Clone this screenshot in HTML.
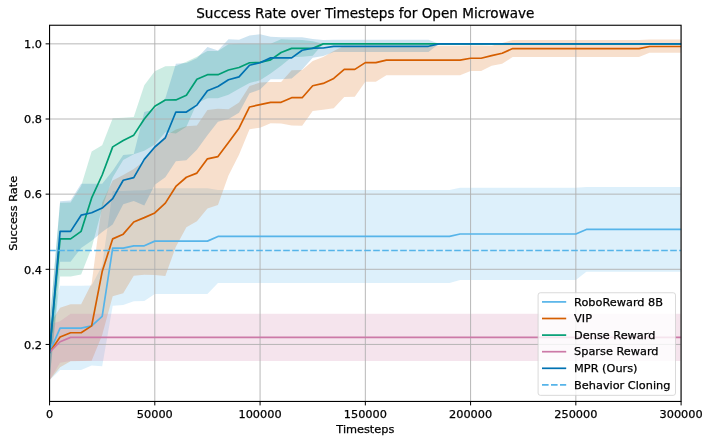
<!DOCTYPE html>
<html><head><meta charset="utf-8"><title>Success Rate over Timesteps for Open Microwave</title>
<style>html,body{margin:0;padding:0;background:#fff}svg{display:block}text{stroke:#000;stroke-width:0.25px;paint-order:stroke fill}</style></head>
<body>
<svg width="711" height="444" viewBox="0 0 711 444" font-family="'DejaVu Sans', 'Liberation Sans', sans-serif" font-size="11.3px" fill="#000" stroke="none">
<rect width="711" height="444" fill="#fff"/>
<defs><clipPath id="ax"><rect x="49.55" y="25.25" width="631.55" height="376.20"/></clipPath></defs>
<g clip-path="url(#ax)">
<path d="M49.55 324.54 L60.08 285.83 L70.60 285.83 L81.13 285.83 L91.65 285.46 L102.18 265.54 L112.70 190.96 L123.23 190.96 L133.76 190.39 L144.28 190.20 L154.81 188.21 L165.33 188.21 L175.86 188.21 L186.39 188.21 L196.91 188.21 L207.44 188.21 L217.96 189.94 L228.49 189.94 L239.02 189.94 L249.54 189.94 L260.07 189.94 L270.59 189.94 L281.12 189.94 L291.64 189.94 L302.17 189.94 L312.70 189.94 L323.22 189.94 L333.75 189.94 L344.27 189.94 L354.80 189.94 L365.33 189.94 L375.85 189.94 L386.38 189.94 L396.90 189.94 L407.43 189.94 L417.95 189.94 L428.48 189.94 L439.01 189.94 L449.53 189.94 L460.06 187.76 L470.58 187.76 L481.11 187.76 L491.64 187.76 L502.16 187.76 L512.69 187.76 L523.21 187.76 L533.74 187.76 L544.26 187.76 L554.79 187.76 L565.32 187.76 L575.84 187.76 L586.37 187.01 L596.89 187.01 L607.42 187.01 L617.95 187.01 L628.47 187.01 L639.00 187.01 L649.52 187.01 L660.05 187.01 L670.57 187.01 L681.10 187.01 L681.10 271.67 L670.57 271.67 L660.05 271.67 L649.52 271.67 L639.00 271.67 L628.47 271.67 L617.95 271.67 L607.42 271.67 L596.89 271.67 L586.37 271.67 L575.84 280.08 L565.32 280.08 L554.79 280.08 L544.26 280.08 L533.74 280.08 L523.21 280.08 L512.69 280.08 L502.16 280.08 L491.64 280.08 L481.11 280.08 L470.58 280.08 L460.06 280.08 L449.53 282.94 L439.01 282.94 L428.48 282.94 L417.95 282.94 L407.43 282.94 L396.90 282.94 L386.38 282.94 L375.85 282.94 L365.33 282.94 L354.80 282.94 L344.27 282.94 L333.75 282.94 L323.22 282.94 L312.70 282.94 L302.17 282.94 L291.64 282.94 L281.12 282.94 L270.59 282.94 L260.07 282.94 L249.54 282.94 L239.02 282.94 L228.49 282.94 L217.96 282.94 L207.44 293.91 L196.91 293.91 L186.39 293.91 L175.86 293.91 L165.33 293.91 L154.81 293.91 L144.28 300.94 L133.76 301.20 L123.23 305.11 L112.70 305.75 L102.18 366.32 L91.65 365.38 L81.13 369.93 L70.60 369.93 L60.08 369.93 L49.55 380.15Z" fill="#56B4E9" fill-opacity="0.2" stroke="none"/>
<path d="M49.55 324.54 L60.08 307.81 L70.60 304.17 L81.13 304.17 L91.65 283.58 L102.18 202.42 L112.70 180.62 L123.23 174.99 L133.76 168.97 L144.28 161.08 L154.81 146.96 L165.33 135.68 L175.86 129.52 L186.39 126.14 L196.91 125.39 L207.44 109.98 L217.96 108.85 L228.49 109.23 L239.02 102.58 L249.54 86.08 L260.07 82.55 L270.59 81.95 L281.12 81.95 L291.64 70.15 L302.17 69.96 L312.70 60.95 L323.22 57.00 L333.75 50.99 L344.27 45.73 L354.80 45.73 L365.33 45.73 L375.85 45.73 L386.38 45.73 L396.90 45.73 L407.43 45.73 L417.95 45.73 L428.48 45.73 L439.01 45.73 L449.53 45.73 L460.06 45.73 L470.58 45.54 L481.11 45.54 L491.64 45.73 L502.16 43.10 L512.69 39.90 L523.21 39.90 L533.74 39.90 L544.26 39.90 L554.79 39.90 L565.32 39.90 L575.84 39.90 L586.37 39.90 L596.89 39.90 L607.42 39.90 L617.95 39.90 L628.47 39.90 L639.00 39.90 L649.52 39.53 L660.05 39.53 L670.57 39.53 L681.10 39.53 L681.10 52.87 L670.57 52.87 L660.05 52.87 L649.52 52.87 L639.00 57.00 L628.47 57.00 L617.95 57.00 L607.42 57.00 L596.89 57.00 L586.37 57.00 L575.84 57.00 L565.32 57.00 L554.79 57.00 L544.26 57.00 L533.74 57.00 L523.21 57.00 L512.69 57.00 L502.16 63.76 L491.64 65.83 L481.11 70.90 L470.58 70.90 L460.06 75.23 L449.53 75.23 L439.01 75.23 L428.48 75.23 L417.95 75.23 L407.43 75.23 L396.90 75.23 L386.38 75.23 L375.85 81.69 L365.33 81.69 L354.80 96.68 L344.27 96.91 L333.75 108.18 L323.22 109.87 L312.70 111.00 L302.17 125.65 L291.64 125.39 L281.12 123.51 L270.59 123.13 L260.07 127.64 L249.54 129.33 L239.02 154.70 L228.49 175.55 L217.96 205.05 L207.44 208.43 L196.91 221.20 L186.39 227.22 L175.86 246.75 L165.33 275.91 L154.81 274.94 L144.28 274.71 L133.76 275.80 L123.23 293.31 L112.70 296.13 L102.18 335.06 L91.65 360.80 L81.13 361.06 L70.60 361.17 L60.08 367.18 L49.55 380.15Z" fill="#D55E00" fill-opacity="0.2" stroke="none"/>
<path d="M49.55 324.54 L60.08 202.79 L70.60 202.42 L81.13 185.88 L91.65 151.46 L102.18 145.30 L112.70 118.25 L123.23 117.65 L133.76 117.12 L144.28 85.18 L154.81 71.28 L165.33 66.21 L175.86 66.09 L186.39 61.70 L196.91 56.63 L207.44 50.99 L217.96 50.99 L228.49 44.23 L239.02 43.85 L249.54 43.85 L260.07 43.85 L270.59 43.85 L281.12 39.34 L291.64 39.72 L302.17 39.90 L312.70 41.22 L323.22 43.85 L333.75 43.85 L344.27 43.85 L354.80 43.85 L365.33 43.85 L375.85 43.85 L386.38 43.85 L396.90 43.85 L407.43 43.85 L417.95 43.85 L428.48 43.85 L439.01 43.85 L449.53 43.85 L460.06 43.85 L470.58 43.85 L481.11 43.85 L491.64 43.85 L502.16 43.85 L512.69 43.85 L523.21 43.85 L533.74 43.85 L544.26 43.85 L554.79 43.85 L565.32 43.85 L575.84 43.85 L586.37 43.85 L596.89 43.85 L607.42 43.85 L617.95 43.85 L628.47 43.85 L639.00 43.85 L649.52 43.85 L660.05 43.85 L670.57 43.85 L681.10 43.85 L681.10 43.85 L670.57 43.85 L660.05 43.85 L649.52 43.85 L639.00 43.85 L628.47 43.85 L617.95 43.85 L607.42 43.85 L596.89 43.85 L586.37 43.85 L575.84 43.85 L565.32 43.85 L554.79 43.85 L544.26 43.85 L533.74 43.85 L523.21 43.85 L512.69 43.85 L502.16 43.85 L491.64 43.85 L481.11 43.85 L470.58 43.85 L460.06 43.85 L449.53 43.85 L439.01 43.85 L428.48 43.85 L417.95 43.85 L407.43 43.85 L396.90 43.85 L386.38 43.85 L375.85 43.85 L365.33 43.85 L354.80 43.85 L344.27 43.85 L333.75 43.85 L323.22 43.85 L312.70 55.87 L302.17 56.63 L291.64 57.19 L281.12 65.64 L270.59 73.53 L260.07 80.30 L249.54 83.08 L239.02 88.71 L228.49 94.76 L217.96 98.15 L207.44 98.15 L196.91 103.22 L186.39 126.63 L175.86 133.39 L165.33 132.15 L154.81 144.55 L144.28 150.68 L133.76 154.32 L123.23 159.96 L112.70 177.62 L102.18 208.05 L91.65 247.88 L81.13 274.56 L70.60 276.59 L60.08 276.59 L49.55 380.15Z" fill="#009E73" fill-opacity="0.2" stroke="none"/>
<path d="M49.55 324.54 L60.08 321.34 L70.60 313.83 L81.13 313.83 L91.65 313.83 L102.18 313.83 L112.70 313.83 L123.23 313.83 L133.76 313.83 L144.28 313.83 L154.81 313.83 L165.33 313.83 L175.86 313.83 L186.39 313.83 L196.91 313.83 L207.44 313.83 L217.96 313.83 L228.49 313.83 L239.02 313.83 L249.54 313.83 L260.07 313.83 L270.59 313.83 L281.12 313.83 L291.64 313.83 L302.17 313.83 L312.70 313.83 L323.22 313.83 L333.75 313.83 L344.27 313.83 L354.80 313.83 L365.33 313.83 L375.85 313.83 L386.38 313.83 L396.90 313.83 L407.43 313.83 L417.95 313.83 L428.48 313.83 L439.01 313.83 L449.53 313.83 L460.06 313.83 L470.58 313.83 L481.11 313.83 L491.64 313.83 L502.16 313.83 L512.69 313.83 L523.21 313.83 L533.74 313.83 L544.26 313.83 L554.79 313.83 L565.32 313.83 L575.84 313.83 L586.37 313.83 L596.89 313.83 L607.42 313.83 L617.95 313.83 L628.47 313.83 L639.00 313.83 L649.52 313.83 L660.05 313.83 L670.57 313.83 L681.10 313.83 L681.10 360.91 L670.57 360.91 L660.05 360.91 L649.52 360.91 L639.00 360.91 L628.47 360.91 L617.95 360.91 L607.42 360.91 L596.89 360.91 L586.37 360.91 L575.84 360.91 L565.32 360.91 L554.79 360.91 L544.26 360.91 L533.74 360.91 L523.21 360.91 L512.69 360.91 L502.16 360.91 L491.64 360.91 L481.11 360.91 L470.58 360.91 L460.06 360.91 L449.53 360.91 L439.01 360.91 L428.48 360.91 L417.95 360.91 L407.43 360.91 L396.90 360.91 L386.38 360.91 L375.85 360.91 L365.33 360.91 L354.80 360.91 L344.27 360.91 L333.75 360.91 L323.22 360.91 L312.70 360.91 L302.17 360.91 L291.64 360.91 L281.12 360.91 L270.59 360.91 L260.07 360.91 L249.54 360.91 L239.02 360.91 L228.49 360.91 L217.96 360.91 L207.44 360.91 L196.91 360.91 L186.39 360.91 L175.86 360.91 L165.33 360.91 L154.81 360.91 L144.28 360.91 L133.76 360.91 L123.23 360.91 L112.70 360.91 L102.18 360.91 L91.65 360.91 L81.13 360.91 L70.60 360.91 L60.08 362.67 L49.55 380.15Z" fill="#CC79A7" fill-opacity="0.2" stroke="none"/>
<path d="M49.55 324.54 L60.08 201.29 L70.60 200.54 L81.13 183.63 L91.65 183.63 L102.18 183.63 L112.70 170.67 L123.23 155.07 L133.76 154.06 L144.28 112.01 L154.81 109.23 L165.33 98.33 L175.86 63.76 L186.39 63.01 L196.91 58.13 L207.44 47.04 L217.96 50.43 L228.49 39.15 L239.02 39.72 L249.54 35.62 L260.07 34.16 L270.59 36.71 L281.12 37.35 L291.64 37.35 L302.17 37.35 L312.70 38.97 L323.22 39.98 L333.75 39.83 L344.27 39.83 L354.80 39.83 L365.33 39.83 L375.85 39.83 L386.38 39.83 L396.90 39.83 L407.43 39.83 L417.95 39.83 L428.48 39.83 L439.01 43.85 L449.53 43.85 L460.06 43.85 L470.58 43.85 L481.11 43.85 L491.64 43.85 L502.16 43.85 L512.69 43.85 L523.21 43.85 L533.74 43.85 L544.26 43.85 L554.79 43.85 L565.32 43.85 L575.84 43.85 L586.37 43.85 L596.89 43.85 L607.42 43.85 L617.95 43.85 L628.47 43.85 L639.00 43.85 L649.52 43.85 L660.05 43.85 L670.57 43.85 L681.10 43.85 L681.10 43.85 L670.57 43.85 L660.05 43.85 L649.52 43.85 L639.00 43.85 L628.47 43.85 L617.95 43.85 L607.42 43.85 L596.89 43.85 L586.37 43.85 L575.84 43.85 L565.32 43.85 L554.79 43.85 L544.26 43.85 L533.74 43.85 L523.21 43.85 L512.69 43.85 L502.16 43.85 L491.64 43.85 L481.11 43.85 L470.58 43.85 L460.06 43.85 L449.53 43.85 L439.01 43.85 L428.48 52.12 L417.95 52.12 L407.43 52.12 L396.90 52.12 L386.38 52.12 L375.85 52.12 L365.33 52.12 L354.80 52.12 L344.27 52.12 L333.75 52.12 L323.22 56.06 L312.70 57.87 L302.17 69.40 L291.64 78.57 L281.12 79.13 L270.59 79.36 L260.07 89.50 L249.54 93.22 L239.02 112.76 L228.49 119.00 L217.96 121.63 L207.44 135.16 L196.91 149.81 L186.39 160.33 L175.86 161.23 L165.33 177.24 L154.81 184.76 L144.28 205.42 L133.76 200.91 L123.23 204.30 L112.70 224.59 L102.18 232.10 L91.65 240.74 L81.13 247.88 L70.60 261.78 L60.08 261.78 L49.55 380.15Z" fill="#0072B2" fill-opacity="0.2" stroke="none"/>
<path d="M49.55 25.25 V401.45 M154.81 25.25 V401.45 M260.07 25.25 V401.45 M365.33 25.25 V401.45 M470.58 25.25 V401.45 M575.84 25.25 V401.45 M681.10 25.25 V401.45 M49.55 344.45 H681.10 M49.55 269.30 H681.10 M49.55 194.15 H681.10 M49.55 119.00 H681.10 M49.55 43.85 H681.10" stroke="#b0b0b0" stroke-opacity="1.0" stroke-width="0.9" fill="none"/>
<path d="M49.55 352.34 L60.08 328.10 L70.60 328.10 L81.13 328.10 L91.65 325.85 L102.18 316.34 L112.70 248.07 L123.23 248.07 L133.76 245.82 L144.28 245.82 L154.81 241.12 L165.33 241.12 L175.86 241.12 L186.39 241.12 L196.91 241.12 L207.44 241.12 L217.96 236.42 L228.49 236.42 L239.02 236.42 L249.54 236.42 L260.07 236.42 L270.59 236.42 L281.12 236.42 L291.64 236.42 L302.17 236.42 L312.70 236.42 L323.22 236.42 L333.75 236.42 L344.27 236.42 L354.80 236.42 L365.33 236.42 L375.85 236.42 L386.38 236.42 L396.90 236.42 L407.43 236.42 L417.95 236.42 L428.48 236.42 L439.01 236.42 L449.53 236.42 L460.06 233.98 L470.58 233.98 L481.11 233.98 L491.64 233.98 L502.16 233.98 L512.69 233.98 L523.21 233.98 L533.74 233.98 L544.26 233.98 L554.79 233.98 L565.32 233.98 L575.84 233.98 L586.37 229.47 L596.89 229.47 L607.42 229.47 L617.95 229.47 L628.47 229.47 L639.00 229.47 L649.52 229.47 L660.05 229.47 L670.57 229.47 L681.10 229.47" fill="none" stroke="#56B4E9" stroke-width="1.7" stroke-linejoin="round" stroke-linecap="square"/>
<path d="M49.55 352.34 L60.08 336.94 L70.60 332.73 L81.13 332.73 L91.65 325.85 L102.18 271.55 L112.70 238.86 L123.23 234.17 L133.76 221.96 L144.28 217.63 L154.81 212.94 L165.33 203.17 L175.86 186.48 L186.39 177.24 L196.91 173.11 L207.44 158.83 L217.96 156.58 L228.49 142.48 L239.02 128.21 L249.54 106.98 L260.07 104.61 L270.59 102.32 L281.12 102.32 L291.64 97.69 L302.17 97.69 L312.70 85.71 L323.22 83.42 L333.75 78.42 L344.27 69.40 L354.80 69.40 L365.33 62.64 L375.85 62.64 L386.38 60.16 L396.90 60.16 L407.43 60.16 L417.95 60.16 L428.48 60.16 L439.01 60.16 L449.53 60.16 L460.06 60.16 L470.58 58.24 L481.11 58.24 L491.64 55.69 L502.16 53.24 L512.69 48.55 L523.21 48.55 L533.74 48.55 L544.26 48.55 L554.79 48.55 L565.32 48.55 L575.84 48.55 L586.37 48.55 L596.89 48.55 L607.42 48.55 L617.95 48.55 L628.47 48.55 L639.00 48.55 L649.52 46.48 L660.05 46.48 L670.57 46.48 L681.10 46.48" fill="none" stroke="#D55E00" stroke-width="1.7" stroke-linejoin="round" stroke-linecap="square"/>
<path d="M49.55 352.34 L60.08 238.86 L70.60 238.86 L81.13 231.35 L91.65 197.91 L102.18 174.99 L112.70 146.88 L123.23 140.42 L133.76 135.16 L144.28 119.00 L154.81 106.22 L165.33 100.02 L175.86 99.91 L186.39 95.33 L196.91 79.32 L207.44 74.66 L217.96 74.66 L228.49 70.04 L239.02 67.52 L249.54 62.75 L260.07 62.45 L270.59 59.86 L281.12 52.57 L291.64 48.36 L302.17 48.36 L312.70 48.36 L323.22 43.85 L333.75 43.85 L344.27 43.85 L354.80 43.85 L365.33 43.85 L375.85 43.85 L386.38 43.85 L396.90 43.85 L407.43 43.85 L417.95 43.85 L428.48 43.85 L439.01 43.85 L449.53 43.85 L460.06 43.85 L470.58 43.85 L481.11 43.85 L491.64 43.85 L502.16 43.85 L512.69 43.85 L523.21 43.85 L533.74 43.85 L544.26 43.85 L554.79 43.85 L565.32 43.85 L575.84 43.85 L586.37 43.85 L596.89 43.85 L607.42 43.85 L617.95 43.85 L628.47 43.85 L639.00 43.85 L649.52 43.85 L660.05 43.85 L670.57 43.85 L681.10 43.85" fill="none" stroke="#009E73" stroke-width="1.7" stroke-linejoin="round" stroke-linecap="square"/>
<path d="M49.55 352.34 L60.08 341.74 L70.60 337.35 L81.13 337.35 L91.65 337.35 L102.18 337.35 L112.70 337.35 L123.23 337.35 L133.76 337.35 L144.28 337.35 L154.81 337.35 L165.33 337.35 L175.86 337.35 L186.39 337.35 L196.91 337.35 L207.44 337.35 L217.96 337.35 L228.49 337.35 L239.02 337.35 L249.54 337.35 L260.07 337.35 L270.59 337.35 L281.12 337.35 L291.64 337.35 L302.17 337.35 L312.70 337.35 L323.22 337.35 L333.75 337.35 L344.27 337.35 L354.80 337.35 L365.33 337.35 L375.85 337.35 L386.38 337.35 L396.90 337.35 L407.43 337.35 L417.95 337.35 L428.48 337.35 L439.01 337.35 L449.53 337.35 L460.06 337.35 L470.58 337.35 L481.11 337.35 L491.64 337.35 L502.16 337.35 L512.69 337.35 L523.21 337.35 L533.74 337.35 L544.26 337.35 L554.79 337.35 L565.32 337.35 L575.84 337.35 L586.37 337.35 L596.89 337.35 L607.42 337.35 L617.95 337.35 L628.47 337.35 L639.00 337.35 L649.52 337.35 L660.05 337.35 L670.57 337.35 L681.10 337.35" fill="none" stroke="#CC79A7" stroke-width="1.7" stroke-linejoin="round" stroke-linecap="square"/>
<path d="M49.55 352.34 L60.08 231.35 L70.60 231.35 L81.13 215.19 L91.65 212.75 L102.18 208.05 L112.70 198.66 L123.23 180.25 L133.76 177.62 L144.28 159.36 L154.81 146.99 L165.33 137.79 L175.86 112.05 L186.39 112.05 L196.91 105.10 L207.44 90.82 L217.96 86.50 L228.49 79.73 L239.02 76.92 L249.54 65.27 L260.07 62.75 L270.59 57.87 L281.12 57.87 L291.64 57.87 L302.17 50.24 L312.70 48.21 L323.22 47.98 L333.75 46.29 L344.27 46.29 L354.80 46.29 L365.33 46.29 L375.85 46.29 L386.38 46.29 L396.90 46.29 L407.43 46.29 L417.95 46.29 L428.48 46.29 L439.01 43.85 L449.53 43.85 L460.06 43.85 L470.58 43.85 L481.11 43.85 L491.64 43.85 L502.16 43.85 L512.69 43.85 L523.21 43.85 L533.74 43.85 L544.26 43.85 L554.79 43.85 L565.32 43.85 L575.84 43.85 L586.37 43.85 L596.89 43.85 L607.42 43.85 L617.95 43.85 L628.47 43.85 L639.00 43.85 L649.52 43.85 L660.05 43.85 L670.57 43.85 L681.10 43.85" fill="none" stroke="#0072B2" stroke-width="1.7" stroke-linejoin="round" stroke-linecap="square"/>
<path d="M49.55 250.51 H681.10" stroke="#56B4E9" stroke-width="1.7" stroke-dasharray="6.6 2.4" stroke-dashoffset="0.35" fill="none"/>
</g>
<rect x="49.55" y="25.25" width="631.55" height="376.20" fill="none" stroke="#000" stroke-width="1.1"/>
<path d="M49.55 401.45 v3.95 M154.81 401.45 v3.95 M260.07 401.45 v3.95 M365.33 401.45 v3.95 M470.58 401.45 v3.95 M575.84 401.45 v3.95 M681.10 401.45 v3.95 M49.55 344.45 h-3.95 M49.55 269.30 h-3.95 M49.55 194.15 h-3.95 M49.55 119.00 h-3.95 M49.55 43.85 h-3.95" stroke="#000" stroke-width="1.0" fill="none"/>
<text x="49.55" y="417.60" text-anchor="middle">0</text>
<text x="154.81" y="417.60" text-anchor="middle">50000</text>
<text x="260.07" y="417.60" text-anchor="middle">100000</text>
<text x="365.33" y="417.60" text-anchor="middle">150000</text>
<text x="470.58" y="417.60" text-anchor="middle">200000</text>
<text x="575.84" y="417.60" text-anchor="middle">250000</text>
<text x="681.10" y="417.60" text-anchor="middle">300000</text>
<text x="42.00" y="348.75" text-anchor="end">0.2</text>
<text x="42.00" y="273.60" text-anchor="end">0.4</text>
<text x="42.00" y="198.45" text-anchor="end">0.6</text>
<text x="42.00" y="123.30" text-anchor="end">0.8</text>
<text x="42.00" y="48.15" text-anchor="end">1.0</text>
<text x="365.32" y="433.00" text-anchor="middle">Timesteps</text>
<text transform="translate(17.20 213.35) rotate(-90)" text-anchor="middle">Success Rate</text>
<text x="365.32" y="17.50" text-anchor="middle" font-size="13.55px">Success Rate over Timesteps for Open Microwave</text>
<rect x="538.10" y="292.75" width="137.40" height="102.60" rx="2.3" ry="2.3" fill="#fff" fill-opacity="0.8" stroke="#ccc" stroke-opacity="0.8" stroke-width="0.9"/>
<path d="M542.00 301.90 H566.20" stroke="#56B4E9" stroke-width="1.7" fill="none"/>
<text x="574.10" y="305.60">RoboReward 8B</text>
<path d="M542.00 318.50 H566.20" stroke="#D55E00" stroke-width="1.7" fill="none"/>
<text x="574.10" y="322.20">VIP</text>
<path d="M542.00 335.10 H566.20" stroke="#009E73" stroke-width="1.7" fill="none"/>
<text x="574.10" y="338.80">Dense Reward</text>
<path d="M542.00 351.70 H566.20" stroke="#CC79A7" stroke-width="1.7" fill="none"/>
<text x="574.10" y="355.40">Sparse Reward</text>
<path d="M542.00 368.30 H566.20" stroke="#0072B2" stroke-width="1.7" fill="none"/>
<text x="574.10" y="372.00">MPR (Ours)</text>
<path d="M542.00 384.90 H566.20" stroke="#56B4E9" stroke-width="1.7" stroke-dasharray="6.6 2.4" fill="none"/>
<text x="574.10" y="388.60">Behavior Cloning</text>
</svg>
</body></html>
